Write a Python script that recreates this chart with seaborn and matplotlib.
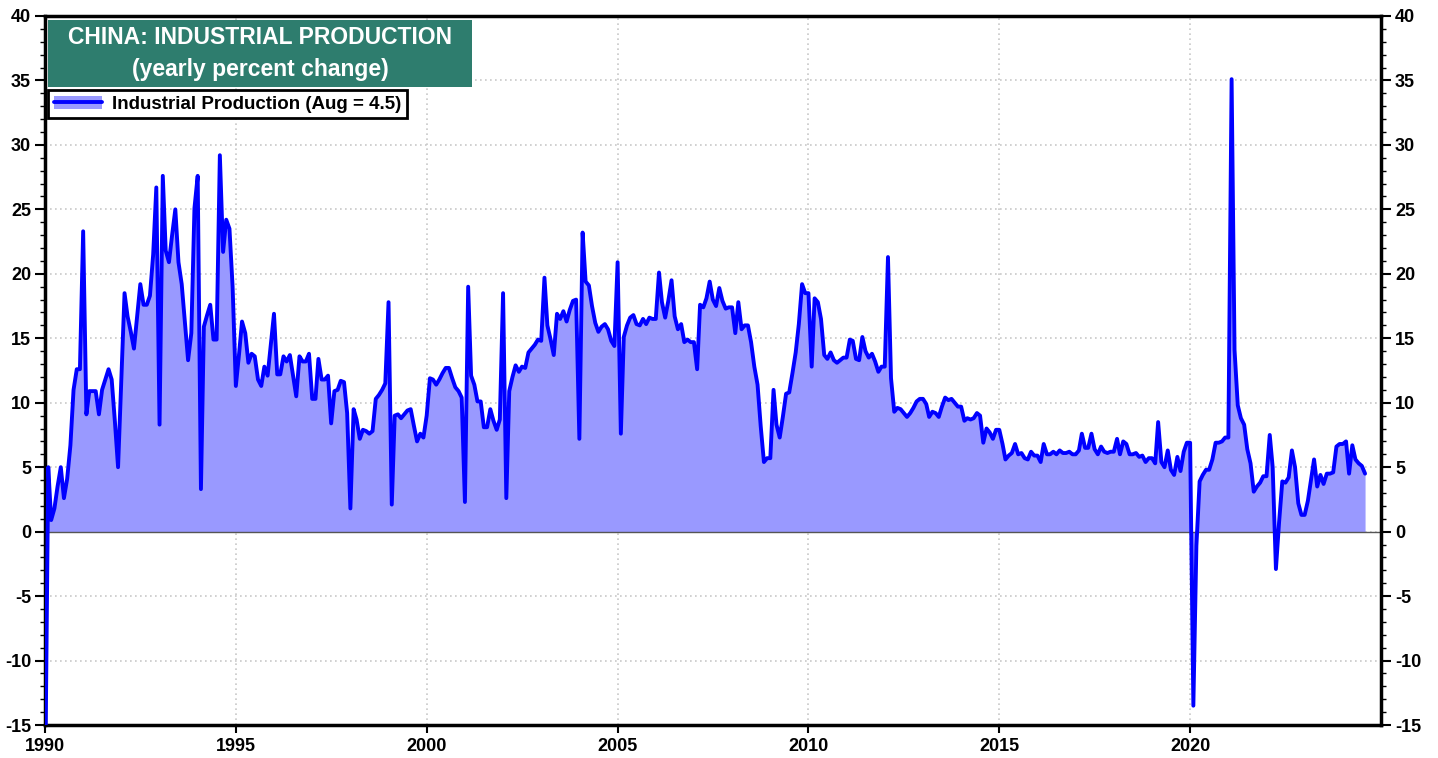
import pandas as pd
import matplotlib.pyplot as plt
import matplotlib.dates as mdates
import seaborn as sns
from matplotlib.patches import Patch, Rectangle
from matplotlib.lines import Line2D
from matplotlib.ticker import MultipleLocator

# China industrial production, yearly % change, monthly Jan 1990 - Aug 2024
ip_1990 = [-21.0, 5.0, 0.9, 1.8, 3.5, 5.0, 2.6, 4.1, 6.7, 11.0, 12.6, 12.6]
ip_1991 = [23.3, 9.1, 10.9, 10.9, 10.9, 9.1, 11.0, 11.8, 12.6, 11.8, 8.5, 5.0]
ip_1992 = [11.8, 18.5, 16.7, 15.5, 14.2, 16.7, 19.2, 17.6, 17.6, 18.3, 21.5, 26.7]
ip_1993 = [8.3, 27.6, 21.8, 20.9, 23.0, 25.0, 20.9, 19.2, 16.2, 13.3, 15.4, 25.1]
ip_1994 = [27.6, 3.3, 15.9, 16.8, 17.6, 14.9, 14.9, 29.2, 21.7, 24.2, 23.5, 19.0]
ip_1995 = [11.3, 13.8, 16.3, 15.4, 13.1, 13.8, 13.6, 11.8, 11.3, 12.8, 12.1, 14.5]
ip_1996 = [16.9, 12.2, 12.2, 13.6, 13.2, 13.7, 12.1, 10.5, 13.6, 13.2, 13.2, 13.8]
ip_1997 = [10.3, 10.3, 13.4, 11.8, 11.8, 12.1, 8.4, 10.9, 11.0, 11.7, 11.6, 9.2]
ip_1998 = [1.8, 9.5, 8.7, 7.2, 7.9, 7.8, 7.6, 7.8, 10.3, 10.6, 11.0, 11.5]
ip_1999 = [17.8, 2.1, 9.0, 9.1, 8.8, 9.1, 9.4, 9.5, 8.2, 7.0, 7.6, 7.3]
ip_2000 = [9.0, 11.9, 11.8, 11.4, 11.8, 12.3, 12.7, 12.7, 11.9, 11.2, 10.9, 10.4]
ip_2001 = [2.3, 19.0, 12.1, 11.4, 10.1, 10.1, 8.1, 8.1, 9.5, 8.6, 7.9, 8.7]
ip_2002 = [18.5, 2.6, 10.9, 12.0, 12.9, 12.4, 12.8, 12.7, 13.9, 14.2, 14.5, 14.9]
ip_2003 = [14.8, 19.7, 16.0, 14.9, 13.7, 16.9, 16.5, 17.1, 16.3, 17.2, 17.9, 18.0]
ip_2004 = [7.2, 23.2, 19.4, 19.1, 17.5, 16.2, 15.5, 15.9, 16.1, 15.7, 14.8, 14.4]
ip_2005 = [20.9, 7.6, 15.1, 16.0, 16.6, 16.8, 16.1, 16.0, 16.5, 16.1, 16.6, 16.5]
ip_2006 = [16.5, 20.1, 17.8, 16.6, 17.9, 19.5, 16.7, 15.7, 16.1, 14.7, 14.9, 14.7]
ip_2007 = [14.7, 12.6, 17.6, 17.4, 18.1, 19.4, 18.0, 17.5, 18.9, 17.9, 17.3, 17.4]
ip_2008 = [17.4, 15.4, 17.8, 15.7, 16.0, 16.0, 14.7, 12.8, 11.4, 8.2, 5.4, 5.7]
ip_2009 = [5.7, 11.0, 8.3, 7.3, 8.9, 10.7, 10.8, 12.3, 13.9, 16.1, 19.2, 18.5]
ip_2010 = [18.5, 12.8, 18.1, 17.8, 16.5, 13.7, 13.4, 13.9, 13.3, 13.1, 13.3, 13.5]
ip_2011 = [13.5, 14.9, 14.8, 13.4, 13.3, 15.1, 14.0, 13.5, 13.8, 13.2, 12.4, 12.8]
ip_2012 = [12.8, 21.3, 11.9, 9.3, 9.6, 9.5, 9.2, 8.9, 9.2, 9.6, 10.1, 10.3]
ip_2013 = [10.3, 9.9, 8.9, 9.3, 9.2, 8.9, 9.7, 10.4, 10.2, 10.3, 10.0, 9.7]
ip_2014 = [9.7, 8.6, 8.8, 8.7, 8.8, 9.2, 9.0, 6.9, 8.0, 7.7, 7.2, 7.9]
ip_2015 = [7.9, 6.8, 5.6, 5.9, 6.1, 6.8, 6.0, 6.1, 5.7, 5.6, 6.2, 5.9]
ip_2016 = [5.9, 5.4, 6.8, 6.0, 6.0, 6.2, 6.0, 6.3, 6.1, 6.1, 6.2, 6.0]
ip_2017 = [6.0, 6.3, 7.6, 6.5, 6.5, 7.6, 6.4, 6.0, 6.6, 6.2, 6.1, 6.2]
ip_2018 = [6.2, 7.2, 6.0, 7.0, 6.8, 6.0, 6.0, 6.1, 5.8, 5.9, 5.4, 5.7]
ip_2019 = [5.7, 5.3, 8.5, 5.4, 5.0, 6.3, 4.8, 4.4, 5.8, 4.7, 6.2, 6.9]
ip_2020 = [6.9, -13.5, -1.1, 3.9, 4.4, 4.8, 4.8, 5.6, 6.9, 6.9, 7.0, 7.3]
ip_2021 = [7.3, 35.1, 14.1, 9.8, 8.8, 8.3, 6.4, 5.3, 3.1, 3.5, 3.8, 4.3]
ip_2022 = [4.3, 7.5, 5.0, -2.9, 0.7, 3.9, 3.8, 4.2, 6.3, 5.0, 2.2, 1.3]
ip_2023 = [1.3, 2.4, 3.9, 5.6, 3.5, 4.4, 3.7, 4.5, 4.5, 4.6, 6.6, 6.8]
ip_2024 = [6.8, 7.0, 4.5, 6.7, 5.6, 5.3, 5.1, 4.5]

values = (ip_1990 + ip_1991 + ip_1992 + ip_1993 + ip_1994 + ip_1995 + ip_1996
          + ip_1997 + ip_1998 + ip_1999 + ip_2000 + ip_2001 + ip_2002 + ip_2003
          + ip_2004 + ip_2005 + ip_2006 + ip_2007 + ip_2008 + ip_2009 + ip_2010
          + ip_2011 + ip_2012 + ip_2013 + ip_2014 + ip_2015 + ip_2016 + ip_2017
          + ip_2018 + ip_2019 + ip_2020 + ip_2021 + ip_2022 + ip_2023 + ip_2024)

year_ticks = [1990, 1995, 2000, 2005, 2010, 2015, 2020]

df = pd.DataFrame({
    'fecha': pd.date_range('1990-01-01', periods=len(values), freq='MS'),
    'ip': values,
})

sns.set_style('white')
plt.rcParams['font.family'] = ['Liberation Sans', 'DejaVu Sans']
plt.rcParams['font.weight'] = 'bold'
plt.rcParams['axes.unicode_minus'] = False
plt.rcParams['text.color'] = 'black'

line_col = '#0000ff'
fill_col = '#9999ff'

fig = plt.figure(figsize=(14.38, 7.58), dpi=100)
ax = fig.add_axes([0.0313, 0.0435, 0.9291, 0.9354])

ax.fill_between(df['fecha'], 0, df['ip'], color=fill_col, lw=0, zorder=2)
sns.lineplot(data=df, x='fecha', y='ip', color=line_col, lw=2.8, ax=ax, zorder=3)
ax.axhline(0, color='#555555', lw=1, zorder=2.5)

ax.set_xlim(pd.Timestamp('1990-01-01'), pd.Timestamp('2025-01-01'))
ax.set_ylim(-15, 40)
ax.set_xlabel('')
ax.set_ylabel('')

ax.set_xticks([pd.Timestamp(f'{y}-01-01') for y in year_ticks])
ax.xaxis.set_major_formatter(mdates.DateFormatter('%Y'))
ax.yaxis.set_major_locator(MultipleLocator(5))
ax.yaxis.set_minor_locator(MultipleLocator(1))

ax.grid(True, which='major', color='#c8c8c8', lw=1.2, linestyle=(0, (1, 2)), zorder=1)
ax.set_axisbelow(True)

for s in ax.spines.values():
    s.set_visible(True)
    s.set_color('black')
    s.set_linewidth(2.5)

ax.tick_params(axis='y', which='both', left=True, right=True, labelleft=True,
               labelright=True, direction='out', colors='black')
ax.tick_params(axis='y', which='major', length=7, width=1.5, labelsize=13, pad=3)
ax.tick_params(axis='y', which='minor', length=3.5, width=1)
ax.tick_params(axis='x', which='major', bottom=True, length=6, width=1.5,
               direction='out', labelsize=13, pad=3, colors='black')
for lab in ax.get_xticklabels() + ax.get_yticklabels():
    lab.set_fontweight('bold')

# title box
ax.add_patch(Rectangle((0.0022, 0.8999), 0.3174, 0.0945, transform=ax.transAxes,
                       facecolor='#2e7d6e', edgecolor='none', zorder=5))
ax.text(0.161, 0.969, 'CHINA: INDUSTRIAL PRODUCTION', transform=ax.transAxes,
        ha='center', va='center', color='white', fontsize=16.5, fontweight='bold', zorder=6)
ax.text(0.161, 0.924, '(yearly percent change)', transform=ax.transAxes,
        ha='center', va='center', color='white', fontsize=16.5, fontweight='bold', zorder=6)

# legend
handle = (Patch(facecolor=fill_col, edgecolor='none'),
          Line2D([0], [0], color=line_col, lw=2.8))
leg = ax.legend([handle], ['Industrial Production (Aug = 4.5)'], loc='upper left',
                bbox_to_anchor=(0.0022, 0.8956), borderaxespad=0, fancybox=False,
                framealpha=1, edgecolor='black', prop={'weight': 'bold', 'size': 13.5},
                handlelength=2.6, borderpad=0.3, handletextpad=0.5, labelcolor='black')
leg.get_frame().set_linewidth(2)
leg.set_zorder(6)

plt.savefig('out.png', dpi=100)
